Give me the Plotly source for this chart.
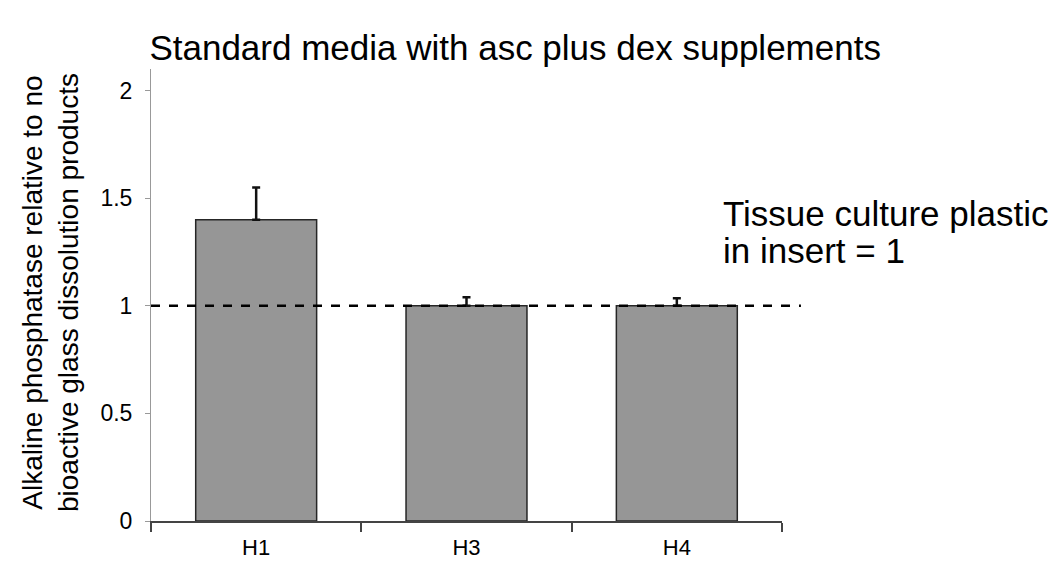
import plotly.graph_objects as go

categories = ["H1", "H3", "H4"]
values = [1.40, 1.00, 1.00]
errors = [0.15, 0.04, 0.035]
reference_level = 1.0
title_text = "Standard media with asc plus dex supplements"
y_title = "Alkaline phosphatase relative to no<br>bioactive glass dissolution products"
note_lines = ["Tissue culture plastic", "in insert = 1"]
y_ticks = [0, 0.5, 1, 1.5, 2]

W, H = 1061, 563
ML, MR, MT, MB = 143, 287, 61, 50
plot_w = W - ML - MR
plot_h = H - MT - MB

def px_x(x):
    return (x - ML) / plot_w

def px_y(y):
    return (H - MB - y) / plot_h

fig = go.Figure()
fig.add_trace(go.Bar(
    x=categories, y=values,
    width=0.575,
    marker=dict(color="#969696", line=dict(color="#262626", width=1.5)),
    error_y=dict(type="data", array=errors, symmetric=False, arrayminus=[0, 0, 0],
                 color="#111111", thickness=2.5, width=4),
))

fig.add_shape(type="line", xref="paper", yref="y", x0=0, x1=1.03,
              y0=reference_level, y1=reference_level,
              line=dict(color="black", width=2.5, dash="dash"))

for txt, yc in zip(note_lines, [205, 242]):
    fig.add_annotation(x=px_x(713), y=px_y(yc), xref="paper", yref="paper", text=txt,
                       showarrow=False, align="left", xanchor="left", yanchor="middle",
                       font=dict(family="Liberation Sans, Arial", size=35, color="black"))

fig.add_annotation(x=px_x(42), y=px_y(285), xref="paper", yref="paper", text=y_title,
                   showarrow=False, textangle=-90, xanchor="center", yanchor="middle",
                   font=dict(family="Liberation Sans, Arial", size=28, color="black"))

fig.update_layout(
    width=W, height=H,
    margin=dict(l=ML, r=MR, t=MT, b=MB),
    paper_bgcolor="white", plot_bgcolor="white",
    showlegend=False,
    title=dict(text=title_text, x=0.478, xanchor="center", y=0.93, yanchor="middle",
               font=dict(family="Liberation Sans, Arial", size=35, color="black")),
    font=dict(family="Liberation Sans, Arial", color="black"),
)

fig.update_xaxes(
    type="category", range=[-0.5, 2.5], automargin=False,
    showline=True, linecolor="#444444", linewidth=1.5,
    ticks="outside", tickson="boundaries", ticklen=9, tickcolor="#444444", tickwidth=1.5,
    tickfont=dict(size=22, color="black"), ticklabelstandoff=6,
    showgrid=False, zeroline=False,
)
fig.update_yaxes(
    range=[0, 2.1], tickvals=y_ticks, ticktext=["0", "0.5", "1", "1.5", "2"],
    automargin=False,
    showline=True, linecolor="#999999", linewidth=1,
    ticks="outside", ticklen=5, tickcolor="#999999",
    tickfont=dict(size=23, color="black"), ticklabelstandoff=8,
    showgrid=False, zeroline=False,
)

fig.write_html("out.html")
